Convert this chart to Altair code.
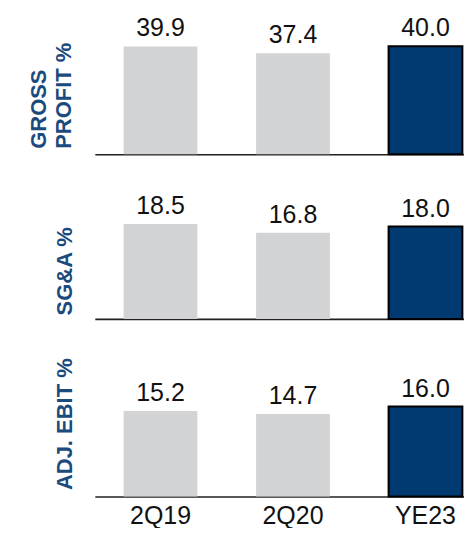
import altair as alt
import pandas as pd

periods = ["2Q19", "2Q20", "YE23"]
gross_profit = [39.9, 37.4, 40.0]
sga = [18.5, 16.8, 18.0]
adj_ebit = [15.2, 14.7, 16.0]

row_titles = [["GROSS", "PROFIT %"], ["SG&A %"], ["ADJ. EBIT %"]]

GRAY = "#D2D3D5"
NAVY = "#003A70"
TITLE_COLOR = "#1B4A7D"
FONT = "Liberation Sans"

PLOT_W = 378


def panel(values, title, dmax, height, title_x, title_y, show_labels):
    df = pd.DataFrame({"period": periods, "value": values})
    xaxis = alt.Axis(
        title=None, labels=show_labels, ticks=False, domain=True,
        domainColor="#231F20", domainWidth=1.6, labelFontSize=25,
        labelFont=FONT, labelColor="#111111", labelPadding=7.5, labelAngle=0,
        grid=False,
    )
    x = alt.X(
        "period:N", sort=periods,
        scale=alt.Scale(paddingInner=0.443, paddingOuter=0.145, align=0.75),
        axis=xaxis,
    )
    y = alt.Y(
        "value:Q",
        scale=alt.Scale(domain=[0, dmax], nice=False, zero=True),
        axis=alt.Axis(
            title=title, labels=False, ticks=False, domain=False, grid=False,
            titleFont=FONT, titleFontSize=22, titleFontWeight="bold",
            titleColor=TITLE_COLOR, titleAngle=270, titleAlign="left",
            titleBaseline="top", titleX=title_x, titleY=title_y,
            titleLineHeight=24.5,
        ),
    )
    bars = alt.Chart(df).mark_bar(strokeWidth=2).encode(
        x=x,
        y=y,
        color=alt.Color("period:N", scale=alt.Scale(domain=periods, range=[GRAY, GRAY, NAVY]), legend=None),
        stroke=alt.Stroke("period:N", scale=alt.Scale(domain=periods, range=["transparent", "transparent", "#000000"]), legend=None),
    )
    text = alt.Chart(df).mark_text(
        dy=-10, baseline="alphabetic", fontSize=25, font=FONT, color="#111111"
    ).encode(
        x=x, y=y, text=alt.Text("value:Q", format=".1f")
    )
    return alt.layer(bars, text).properties(width=PLOT_W, height=height)


p1 = panel(gross_profit, row_titles[0], 53.9, 146, -66, 140, False)
p2 = panel(sga, row_titles[1], 32.07, 165, -40.6, 161, False)
p3 = panel(adj_ebit, row_titles[2], 31.6, 178, -40.6, 171, True)

chart = alt.vconcat(p1, p2, p3, spacing=0, bounds="flush").properties(
    padding={"left": 20, "top": 0, "right": -8, "bottom": -2}
).configure_view(stroke=None)

chart.save("out.html", embed_options={"renderer": "svg", "actions": False})
